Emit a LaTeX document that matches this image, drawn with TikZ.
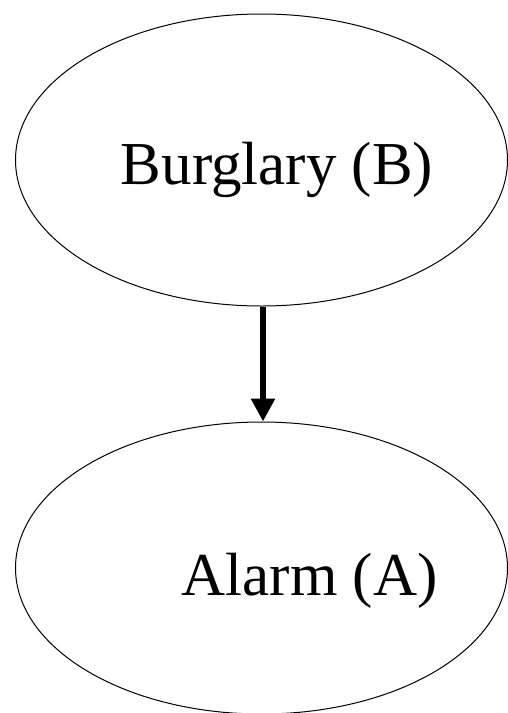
\documentclass[tikz,border=0pt]{standalone}
\usepackage{fontspec}
\setmainfont{Liberation Serif}
\usetikzlibrary{shapes.geometric,arrows.meta}
\begin{document}
\begin{tikzpicture}[x=1pt,y=-1pt,
  varnode/.style={draw=black,line width=1pt,ellipse,inner sep=0pt,minimum width=492pt,minimum height=292pt},
  label text/.style={font=\fontsize{61}{70}\selectfont,inner sep=0pt,anchor=base},
  edge arrow/.style={line width=6pt,-{Triangle[width=23pt,length=23pt]}}]
\useasboundingbox (0,0) rectangle (508,713);
\node[varnode] (B) at (261.5,160) {};
\node[varnode] (A) at (261.5,568) {};
\node[label text] (Bt) at (277,184) {Burglary (B)};
\node[label text] (At) at (309.5,595) {Alarm (A)};
\draw[edge arrow] ([xshift=1.5pt]B.south) -- ([xshift=1.5pt]A.north);
\end{tikzpicture}
\end{document}
